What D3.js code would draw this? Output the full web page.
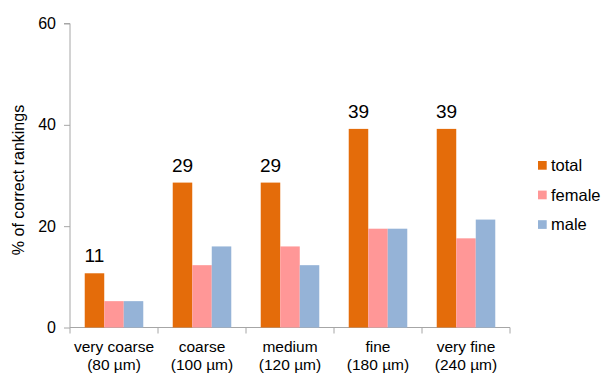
<!DOCTYPE html>
<html>
<head>
<meta charset="utf-8">
<script src="https://cdn.jsdelivr.net/npm/d3@7"></script>
<style>
  body { margin: 0; background: #fff; }
  svg { display: block; font-family: Arial, "Liberation Sans", sans-serif; }
</style>
</head>
<body>
<div id="chart"></div>
<script>
// data
const categories = ['very coarse|(80 µm)', 'coarse|(100 µm)', 'medium|(120 µm)', 'fine|(180 µm)', 'very fine|(240 µm)'];
const series = ['total', 'female', 'male'];
const total = [10.7, 28.6, 28.6, 39.2, 39.2];
const female = [5.2, 12.3, 16.0, 19.5, 17.6];
const male = [5.2, 16.0, 12.3, 19.5, 21.3];
const totalLabels = ['11', '29', '29', '39', '39'];
const yTicks = [0, 20, 40, 60];
const colors = ['#E46C0A', '#FF9797', '#95B3D7'];

const width = 603, height = 373;
const margin = {top: 23.5, right: 93, bottom: 45.5, left: 70};

const svg = d3.select('#chart').append('svg')
  .attr('width', width).attr('height', height);

const x = d3.scaleBand()
  .domain(categories)
  .range([margin.left, width - margin.right])
  .padding(0);

const x1 = d3.scaleBand()
  .domain(series)
  .range([0, x.bandwidth()])
  .paddingInner(0)
  .paddingOuter(0.755);

const y = d3.scaleLinear()
  .domain([0, 60])
  .range([height - margin.bottom, margin.top]);

const axisColor = '#A6A6A6';

// y axis
const yAxis = g => g
  .attr('transform', `translate(${margin.left},0)`)
  .call(d3.axisLeft(y).tickValues(yTicks).tickSize(6).tickPadding(8))
  .call(g => g.select('.domain').attr('stroke', axisColor).attr('d', `M-6,${y(60)}H0V${y(0)}`))
  .call(g => g.selectAll('line').attr('stroke', axisColor))
  .call(g => g.selectAll('text').attr('fill', '#000').style('font-size', '16px').attr('font-family', null));
svg.append('g').call(yAxis);

// x axis: ticks at band boundaries
const xg = svg.append('g');
xg.append('line')
  .attr('x1', margin.left).attr('x2', width - margin.right)
  .attr('y1', y(0)).attr('y2', y(0))
  .attr('stroke', axisColor);
const bounds = categories.map(c => x(c)).concat([x(categories[categories.length - 1]) + x.bandwidth()]);
xg.selectAll('.tk').data(bounds).enter().append('line')
  .attr('x1', d => d).attr('x2', d => d)
  .attr('y1', y(0)).attr('y2', y(0) + 6)
  .attr('stroke', axisColor);

categories.forEach(c => {
  const parts = c.split('|');
  const cx = x(c) + x.bandwidth() / 2;
  const t = xg.append('text')
    .attr('text-anchor', 'middle')
    .style('font-size', '15.5px')
    .attr('fill', '#000');
  t.append('tspan').attr('x', cx).attr('y', 352).text(parts[0]);
  t.append('tspan').attr('x', cx).attr('y', 369.5).text(parts[1]);
});

// bars
const values = {total: total, female: female, male: male};
series.forEach((s, si) => {
  svg.append('g')
    .selectAll('rect').data(values[s]).enter().append('rect')
    .attr('x', (d, i) => x(categories[i]) + x1(s))
    .attr('y', d => y(d))
    .attr('width', x1.bandwidth())
    .attr('height', d => y(0) - y(d))
    .attr('fill', colors[si]);
});

// value labels over total bars
svg.append('g')
  .selectAll('text').data(total).enter().append('text')
  .attr('x', (d, i) => x(categories[i]) + x1('total') + x1.bandwidth() / 2)
  .attr('y', d => y(d) - 11)
  .attr('text-anchor', 'middle')
  .style('font-size', '19px')
  .attr('fill', '#000')
  .text((d, i) => totalLabels[i]);

// y title
svg.append('text')
  .attr('transform', 'translate(24,180) rotate(-90)')
  .attr('text-anchor', 'middle')
  .style('font-size', '16px')
  .attr('fill', '#000')
  .text('% of correct rankings');

// legend
const legend = svg.append('g').attr('transform', 'translate(538,161)');
series.forEach((s, i) => {
  const row = legend.append('g').attr('transform', `translate(0,${i * 29.6})`);
  row.append('rect').attr('width', 8.7).attr('height', 8.7).attr('fill', colors[i]);
  row.append('text').attr('x', 13).attr('y', 10).style('font-size', '16.5px').attr('fill', '#000').text(s);
});
</script>
</body>
</html>
